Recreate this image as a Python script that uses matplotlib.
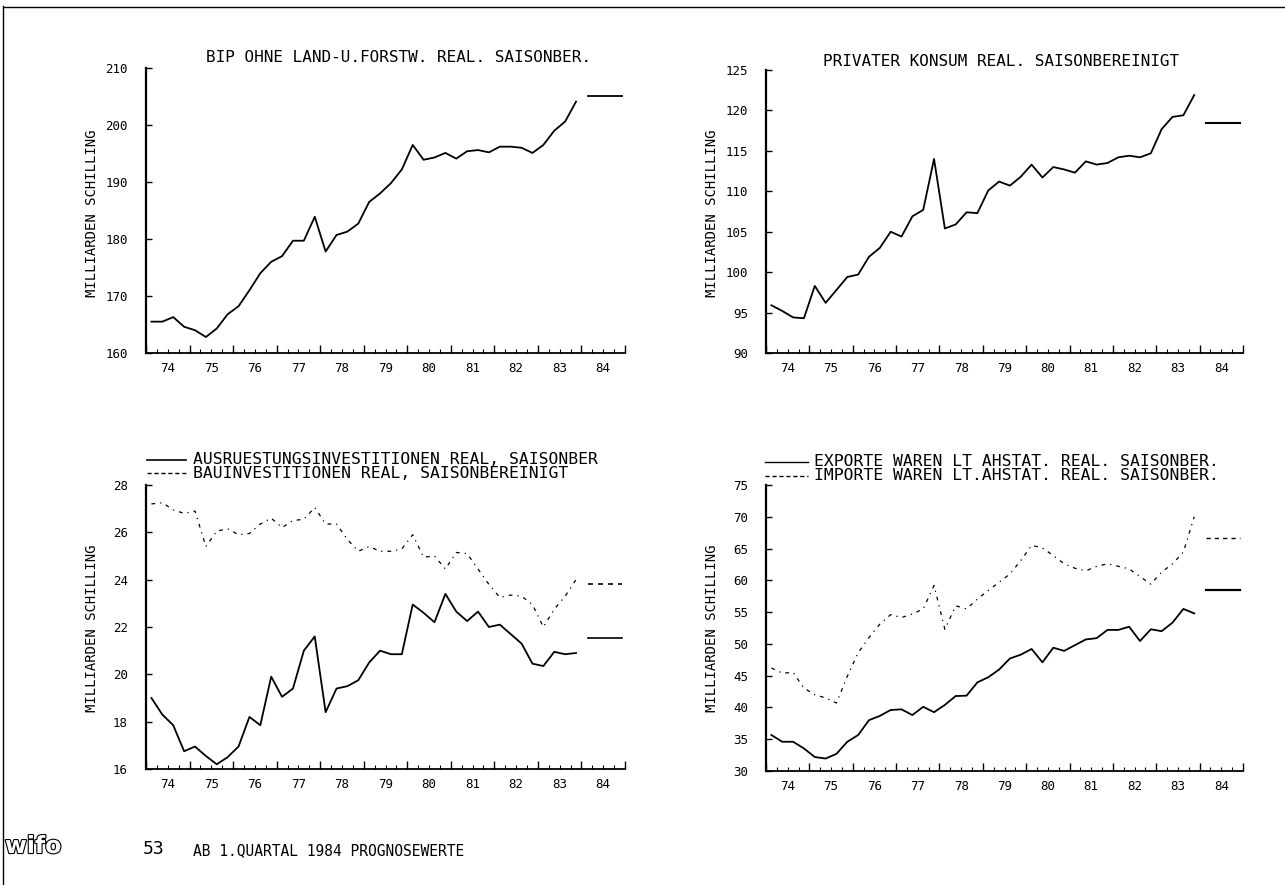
import matplotlib
matplotlib.use("Agg")
import matplotlib.pyplot as plt
from matplotlib.lines import Line2D
import matplotlib.patheffects as pe
import numpy as np

# ---------------- data ----------------
first_year = 1974
forecast_year = 1984
last_year = 1985
year_labels = ["74", "75", "76", "77", "78", "79", "80", "81", "82", "83", "84"]

bip = [165.5, 165.5, 166.3, 164.6, 164.0, 162.8, 164.3, 166.8, 168.2, 171.0,
       174.0, 176.0, 177.0, 179.7, 179.7, 183.9, 177.8, 180.7, 181.3, 182.7,
       186.5, 188.0, 189.8, 192.2, 196.5, 193.9, 194.3, 195.1, 194.1, 195.4,
       195.6, 195.2, 196.2, 196.2, 196.0, 195.1, 196.5, 199.0, 200.6, 204.1]
bip_forecast = 205.1

konsum = [95.9, 95.2, 94.4, 94.3, 98.3, 96.2, 97.8, 99.4, 99.7, 101.9,
          103.0, 105.0, 104.4, 106.9, 107.7, 114.0, 105.4, 105.9, 107.4, 107.3,
          110.1, 111.2, 110.7, 111.8, 113.3, 111.7, 113.0, 112.7, 112.3, 113.7,
          113.3, 113.5, 114.2, 114.4, 114.2, 114.7, 117.7, 119.2, 119.4, 121.9]
konsum_forecast = 118.4

ausruestung = [19.0, 18.3, 17.85, 16.75, 16.95, 16.55, 16.2, 16.5, 16.95, 18.2,
               17.85, 19.9, 19.05, 19.4, 21.0, 21.6, 18.4, 19.4, 19.5, 19.75,
               20.5, 21.0, 20.85, 20.85, 22.95, 22.6, 22.2, 23.4, 22.65, 22.25,
               22.65, 22.0, 22.1, 21.7, 21.3, 20.45, 20.35, 20.95, 20.85, 20.9]
ausruestung_forecast = 21.55

bau = [27.2, 27.25, 26.95, 26.8, 26.9, 25.4, 26.05, 26.15, 25.9, 25.95,
       26.35, 26.6, 26.2, 26.5, 26.55, 27.05, 26.35, 26.35, 25.7, 25.2,
       25.4, 25.2, 25.2, 25.3, 25.9, 24.95, 25.0, 24.45, 25.15, 25.1,
       24.45, 23.8, 23.25, 23.35, 23.3, 22.95, 22.0, 22.75, 23.3, 24.0]
bau_forecast = 23.8

exporte = [35.66, 34.6, 34.6, 33.55, 32.2, 31.96, 32.7, 34.6, 35.66, 38.0,
           38.67, 39.6, 39.7, 38.8, 40.1, 39.25, 40.4, 41.8, 41.85, 43.95,
           44.75, 45.96, 47.7, 48.3, 49.2, 47.1, 49.4, 48.9, 49.8, 50.7,
           50.9, 52.2, 52.2, 52.7, 50.45, 52.3, 52.0, 53.35, 55.5, 54.8]
exporte_forecast = 58.5

importe = [46.2, 45.4, 45.5, 43.05, 42.0, 41.5, 40.7, 44.9, 48.6, 51.0,
           53.1, 54.6, 54.15, 54.7, 55.5, 59.2, 52.3, 56.0, 55.5, 57.05,
           58.4, 59.7, 61.0, 63.1, 65.5, 65.1, 63.9, 62.6, 61.9, 61.5,
           62.2, 62.6, 62.2, 61.8, 60.6, 59.4, 61.3, 62.6, 64.45, 70.0]
importe_forecast = 66.7

title_bip = "BIP OHNE LAND-U.FORSTW. REAL. SAISONBER."
title_konsum = "PRIVATER KONSUM REAL. SAISONBEREINIGT"
label_ausr = "AUSRUESTUNGSINVESTITIONEN REAL, SAISONBER"
label_bau = "BAUINVESTITIONEN REAL, SAISONBEREINIGT"
label_exp = "EXPORTE WAREN LT AHSTAT. REAL. SAISONBER."
label_imp = "IMPORTE WAREN LT.AHSTAT. REAL. SAISONBER."
ylabel = "MILLIARDEN SCHILLING"
footer_num = "53"
footer_text = "AB 1.QUARTAL 1984 PROGNOSEWERTE"
logo_text = "wifo"

yticks_bip = [160, 170, 180, 190, 200, 210]
yticks_konsum = [90, 95, 100, 105, 110, 115, 120, 125]
yticks_inv = [16, 18, 20, 22, 24, 26, 28]
yticks_trade = [30, 35, 40, 45, 50, 55, 60, 65, 70, 75]

# ---------------- figure ----------------
plt.rcParams['font.family'] = ['DejaVu Sans Mono']
W, H = 1285, 885
fig = plt.figure(figsize=(W / 100, H / 100), dpi=100)


def fx(x):
    return x / W


def fy(y):
    return 1 - y / H


def add_axes(left, right, top, bottom):
    return fig.add_axes([fx(left), fy(bottom), fx(right - left), (bottom - top) / H])


quarters = np.array([first_year + (i + 0.5) / 4 for i in range(len(bip))])
DASHDOT = (0, (3, 4, 1, 4))


def setup(ax, yticks):
    ax.set_xlim(first_year, last_year)
    ax.set_ylim(yticks[0], yticks[-1])
    for s in ("top", "right"):
        ax.spines[s].set_visible(False)
    ax.spines["left"].set_linewidth(1.6)
    ax.spines["bottom"].set_linewidth(1.3)
    ax.set_xticks(np.arange(first_year, last_year + 1))
    ax.set_xticklabels([])
    ax.set_xticks(np.arange(first_year, last_year + 0.01, 0.25), minor=True)
    ax.tick_params(axis="x", which="major", direction="in", length=6, width=1.0)
    ax.tick_params(axis="x", which="minor", direction="in", length=3, width=0.8)
    ax.set_yticks(yticks)
    ax.set_yticklabels([str(t) for t in yticks])
    ax.tick_params(axis="y", direction="in", length=4, width=1.0, pad=13, labelsize=9)
    for k, lab in enumerate(year_labels):
        ax.annotate(lab, xy=(first_year + k + 0.5, 0), xycoords=("data", "axes fraction"),
                    xytext=(0, -15), textcoords="offset pixels",
                    ha="center", va="center", fontsize=9)
    ax.patch.set_alpha(0)


def forecast(ax, value, **kw):
    ax.plot([forecast_year + 0.15, forecast_year + 0.93], [value, value], color="black", **kw)


# top-left
ax1 = add_axes(146, 625, 68, 353)
setup(ax1, yticks_bip)
ax1.plot(quarters, bip, color="black", lw=1.3)
forecast(ax1, bip_forecast, lw=1.3)

# top-right
ax2 = add_axes(766, 1243, 70, 353)
setup(ax2, yticks_konsum)
ax2.plot(quarters, konsum, color="black", lw=1.3)
forecast(ax2, konsum_forecast, lw=1.5)

# bottom-left
ax3 = add_axes(146, 625, 485, 769)
setup(ax3, yticks_inv)
ax3.plot(quarters, ausruestung, color="black", lw=1.3)
ax3.plot(quarters, bau, color="black", lw=0.9, linestyle=DASHDOT)
forecast(ax3, ausruestung_forecast, lw=1.2)
forecast(ax3, bau_forecast, lw=1.2, linestyle=(0, (3, 3)))

# bottom-right
ax4 = add_axes(766, 1243, 485, 771)
setup(ax4, yticks_trade)
ax4.plot(quarters, exporte, color="black", lw=1.3)
ax4.plot(quarters, importe, color="black", lw=0.9, linestyle=DASHDOT)
forecast(ax4, exporte_forecast, lw=1.6)
forecast(ax4, importe_forecast, lw=1.0, linestyle=(0, (3, 3)))

# titles
fig.text(fx(398), fy(58), title_bip, ha="center", va="center", fontsize=11.5)
fig.text(fx(1001), fy(61), title_konsum, ha="center", va="center", fontsize=11.5)

# y labels
for xp, yp in [(92, 213), (712, 213), (92, 628), (712, 628)]:
    fig.text(fx(xp), fy(yp), ylabel, rotation=90, ha="center", va="center", fontsize=10)

# legends
def legend_entry(x0, x1, xt, y, text, **kw):
    fig.add_artist(Line2D([fx(x0), fx(x1)], [fy(y), fy(y)], color="black", **kw))
    fig.text(fx(xt), fy(y), text, ha="left", va="center", fontsize=11.8)

legend_entry(147, 186, 193, 460, label_ausr, lw=1.2)
legend_entry(147, 186, 193, 473, label_bau, lw=1.0, linestyle=(0, (3, 2)))
legend_entry(765, 808, 814, 462, label_exp, lw=1.0)
legend_entry(765, 808, 814, 476, label_imp, lw=1.0, linestyle=(0, (3, 2)))

# footer
fig.text(fx(5), fy(846), logo_text, ha="left", va="center", fontsize=17,
         family="DejaVu Sans", fontweight="bold", color="white",
         path_effects=[pe.withStroke(linewidth=1.6, foreground="black")])
fig.text(fx(154), fy(849), footer_num, ha="center", va="center", fontsize=13)
fig.text(fx(193), fy(851), footer_text, ha="left", va="center", fontsize=10.5)

# page frame
fig.add_artist(Line2D([fx(4), fx(1285)], [fy(7), fy(7)], color="black", lw=1.0))
fig.add_artist(Line2D([fx(3), fx(3)], [fy(6), fy(885)], color="black", lw=1.0))

fig.savefig("out.png", dpi=100, facecolor="white")
